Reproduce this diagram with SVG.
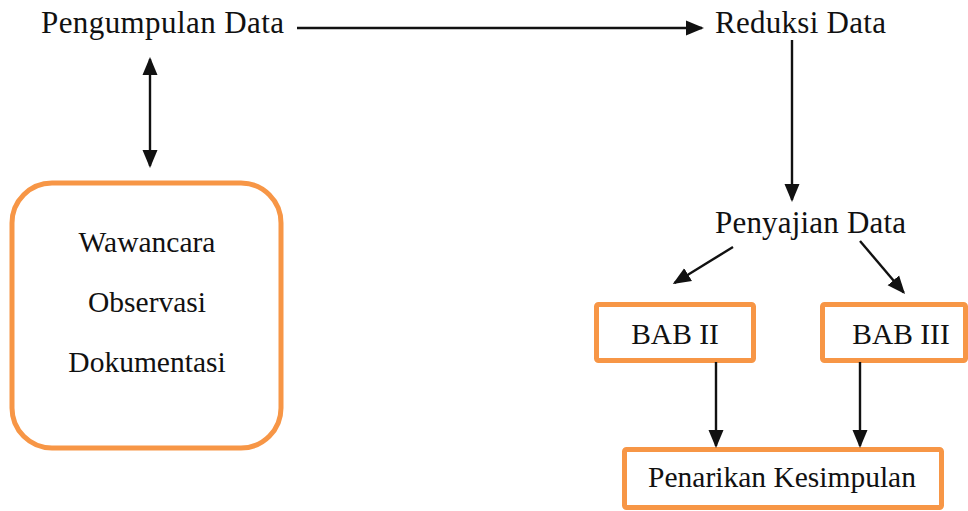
<svg xmlns="http://www.w3.org/2000/svg" width="968" height="511" viewBox="0 0 968 511">
<defs>
<style>
.t{font-family:"Liberation Serif","Times New Roman",serif;fill:#111;}
.big{font-size:31px;}
.sm{font-size:29.5px;}
.box{fill:#fff;stroke:#F79646;stroke-width:5;}
.ln{stroke:#111;stroke-width:2.4;fill:none;marker-end:url(#ah);}
</style>
<marker id="ah" markerUnits="userSpaceOnUse" markerWidth="18" markerHeight="18" viewBox="0 0 18 18" refX="16" refY="9" orient="auto-start-reverse">
<path d="M0,1.5 L18,9 L0,16.5 z" fill="#111"/>
</marker>
</defs>
<rect width="968" height="511" fill="#fff"/>
<g id="pengumpulan">
<text class="t big" x="41" y="33" textLength="243">Pengumpulan Data</text>
</g>
<g id="reduksi">
<text class="t big" x="715" y="33" textLength="171">Reduksi Data</text>
</g>
<g id="penyajian">
<text class="t big" x="715" y="233" textLength="191">Penyajian Data</text>
</g>
<g id="metode">
<rect class="box" x="12" y="183" width="269" height="265" rx="40" ry="40"/>
<text class="t sm" x="147" y="252" text-anchor="middle">Wawancara</text>
<text class="t sm" x="147" y="312" text-anchor="middle">Observasi</text>
<text class="t sm" x="147" y="372" text-anchor="middle">Dokumentasi</text>
</g>
<g id="bab2">
<rect class="box" x="596.5" y="304.5" width="157" height="56" rx="2"/>
<text class="t sm" x="675" y="344" text-anchor="middle">BAB II</text>
</g>
<g id="bab3">
<rect class="box" x="822.5" y="304.5" width="143" height="56" rx="2"/>
<text class="t sm" x="901" y="344" text-anchor="middle">BAB III</text>
</g>
<g id="kesimpulan">
<rect class="box" x="624.5" y="449.5" width="317" height="58" rx="2"/>
<text class="t sm" x="782" y="487" text-anchor="middle">Penarikan Kesimpulan</text>
</g>
<g id="connectors">
<line class="ln" x1="297" y1="28" x2="702" y2="28"/>
<line class="ln" x1="150" y1="59" x2="150" y2="166" style="marker-start:url(#ah)"/>
<line class="ln" x1="792" y1="40" x2="792" y2="200"/>
<line class="ln" x1="733" y1="247" x2="674.5" y2="283"/>
<line class="ln" x1="860" y1="241" x2="903.7" y2="292.5"/>
<line class="ln" x1="716" y1="362" x2="716" y2="446"/>
<line class="ln" x1="860" y1="362" x2="860" y2="446"/>
</g>
</svg>
